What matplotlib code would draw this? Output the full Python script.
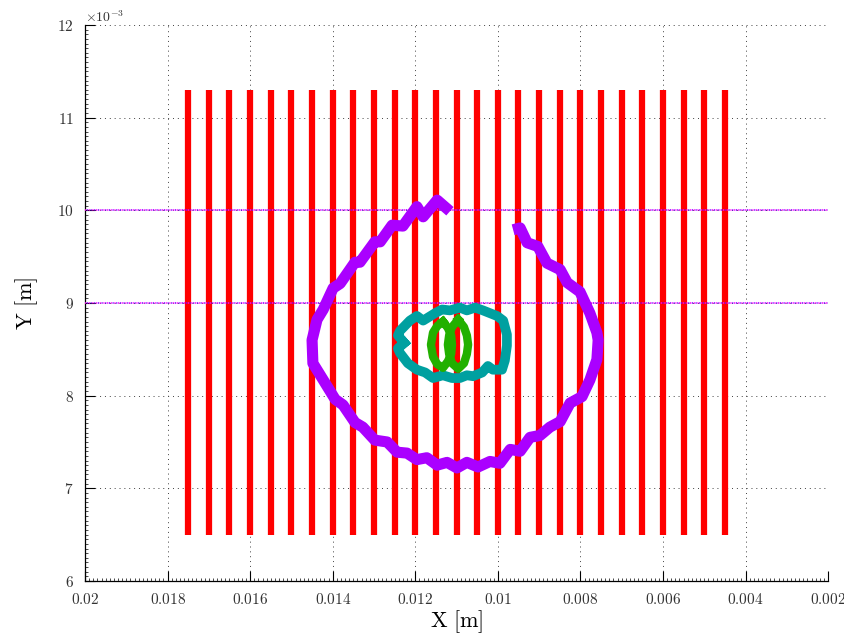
import matplotlib
matplotlib.use("Agg")
import matplotlib.pyplot as plt
from matplotlib.ticker import AutoMinorLocator

plt.rcParams["mathtext.fontset"] = "cm"
plt.rcParams["font.family"] = "DejaVu Serif"

# Conductor strips (x positions, m) and their vertical extent (mm)
strip_x = [0.0175, 0.0170, 0.0165, 0.0160, 0.0155, 0.0150, 0.0145, 0.0140, 0.0135,
           0.0130, 0.0125, 0.0120, 0.0115, 0.0110, 0.0105, 0.0100, 0.0095, 0.0090,
           0.0085, 0.0080, 0.0075, 0.0070, 0.0065, 0.0060, 0.0055, 0.0050, 0.0045]
strip_y0_mm = 6.5
strip_y1_mm = 11.3

# Reference levels (mm)
level_y_mm = [9.0, 10.0]

# Outer trajectory (x in m, y in mm)
outer_x = [0.01116, 0.01147, 0.01181, 0.01196, 0.01230, 0.01256, 0.01285, 0.01298,
           0.01334, 0.01346, 0.01382, 0.01399, 0.01423, 0.01438, 0.01450, 0.01448,
           0.01423, 0.01394, 0.01375, 0.01346, 0.01327, 0.01298, 0.01268, 0.01244,
           0.01220, 0.01196, 0.01172, 0.01147, 0.01123, 0.01099, 0.01075, 0.01048,
           0.01019, 0.00995, 0.00970, 0.00946, 0.00922, 0.00898, 0.00874, 0.00849,
           0.00825, 0.00796, 0.00777, 0.00760, 0.00757, 0.00760, 0.00777, 0.00801,
           0.00832, 0.00849, 0.00881, 0.00903, 0.00929, 0.00946, 0.00963]
outer_y = [9.99, 10.11, 9.93, 10.04, 9.83, 9.84, 9.66, 9.66,
           9.44, 9.44, 9.21, 9.16, 8.93, 8.82, 8.60, 8.35,
           8.17, 7.96, 7.90, 7.71, 7.66, 7.52, 7.50, 7.39,
           7.38, 7.31, 7.33, 7.25, 7.28, 7.22, 7.28, 7.23,
           7.29, 7.27, 7.42, 7.40, 7.55, 7.57, 7.66, 7.72,
           7.92, 7.99, 8.17, 8.39, 8.60, 8.68, 8.89, 9.12,
           9.22, 9.36, 9.43, 9.61, 9.65, 9.81, 9.79]

# Middle trajectory
mid_x = [0.01227, 0.01242, 0.01237, 0.01213, 0.01196, 0.01181, 0.01152, 0.01135,
         0.01116, 0.01092, 0.01075, 0.01055, 0.01036, 0.01019, 0.01002, 0.00987,
         0.00978, 0.00978, 0.00983, 0.00990, 0.01012, 0.01024, 0.01038, 0.01060,
         0.01075, 0.01092, 0.01111, 0.01133, 0.01157, 0.01176, 0.01196, 0.01218,
         0.01237, 0.01242, 0.01227]
mid_y = [8.57, 8.65, 8.70, 8.81, 8.86, 8.81, 8.89, 8.93,
         8.92, 8.95, 8.92, 8.95, 8.92, 8.89, 8.86, 8.81,
         8.66, 8.54, 8.38, 8.28, 8.28, 8.32, 8.25, 8.21,
         8.22, 8.19, 8.19, 8.22, 8.19, 8.25, 8.28, 8.35,
         8.46, 8.51, 8.57]

# Inner trajectory: two crossing loops
inner_left_x = [0.01133, 0.01147, 0.01157, 0.01162, 0.01157, 0.01147, 0.01133,
                0.01121, 0.01113, 0.01111, 0.01113, 0.01121, 0.01133]
inner_left_y = [8.80, 8.75, 8.68, 8.55, 8.42, 8.34, 8.30,
                8.37, 8.45, 8.55, 8.65, 8.73, 8.80]
inner_right_x = [0.01096, 0.01111, 0.01118, 0.01121, 0.01118, 0.01111, 0.01096,
                 0.01082, 0.01075, 0.01072, 0.01075, 0.01082, 0.01096]
inner_right_y = [8.82, 8.74, 8.65, 8.55, 8.45, 8.35, 8.29,
                 8.35, 8.45, 8.55, 8.65, 8.74, 8.82]

x_ticks = [0.02, 0.018, 0.016, 0.014, 0.012, 0.01, 0.008, 0.006, 0.004, 0.002]
x_tick_labels = ["0.02", "0.018", "0.016", "0.014", "0.012", "0.01", "0.008",
                 "0.006", "0.004", "0.002"]
y_ticks_mm = [6, 7, 8, 9, 10, 11, 12]

mm = 1e-3

fig = plt.figure(figsize=(8.45, 6.36), dpi=100)
ax = fig.add_axes([0.1006, 0.0865, 0.8794, 0.8742])

ax.set_xlim(0.02, 0.002)
ax.set_ylim(6 * mm, 12 * mm)

ax.grid(True, which="major", color="0.25", linestyle=(0, (1, 4)), linewidth=0.7)
ax.set_axisbelow(True)

ax.vlines(strip_x, strip_y0_mm * mm, strip_y1_mm * mm, color="#ff0000",
          linewidth=4.5, zorder=2)

for yl in level_y_mm:
    ax.axhline(yl * mm, color="#ff00ff", linestyle=(0, (0.8, 1.6)), linewidth=1.1, zorder=3)
    ax.axhline(yl * mm, color="#7a00ff", linestyle=(1.2, (0.8, 1.6)), linewidth=1.1, zorder=3)

ax.plot(outer_x, [v * mm for v in outer_y], color="#aa00ff", linewidth=8,
        solid_capstyle="butt", solid_joinstyle="round", zorder=4)
ax.plot(mid_x, [v * mm for v in mid_y], color="#00a0a0", linewidth=7,
        solid_joinstyle="round", zorder=5)
ax.plot(inner_left_x, [v * mm for v in inner_left_y], color="#22b000",
        linewidth=6, solid_joinstyle="round", zorder=6)
ax.plot(inner_right_x, [v * mm for v in inner_right_y], color="#22b000",
        linewidth=6, solid_joinstyle="round", zorder=6)

ax.set_xticks(x_ticks)
ax.set_xticklabels(["$" + t + "$" for t in x_tick_labels])
ax.set_yticks([v * mm for v in y_ticks_mm])
ax.set_yticklabels(["$%d$" % v for v in y_ticks_mm])
ax.xaxis.set_minor_locator(AutoMinorLocator(20))
ax.yaxis.set_minor_locator(AutoMinorLocator(20))

ax.tick_params(which="major", direction="in", length=7, width=0.8,
               labelsize=11, top=False, right=False, pad=8, labelcolor="#333333")
ax.tick_params(which="minor", direction="in", length=2, width=0.5,
               top=False, right=False)

for side in ("top", "right"):
    ax.spines[side].set_visible(False)
for side in ("left", "bottom"):
    ax.spines[side].set_linewidth(0.9)

ax.text(0.0, 1.0, r"$\times10^{-3}$", transform=ax.transAxes, fontsize=10,
        ha="left", va="bottom", color="#333333")

ax.set_xlabel(r"$\mathrm{X\ [m]}$", fontsize=16, labelpad=1)
ax.set_ylabel(r"$\mathrm{Y\ [m]}$", fontsize=16, labelpad=12)

fig.savefig("out.png", dpi=100)
